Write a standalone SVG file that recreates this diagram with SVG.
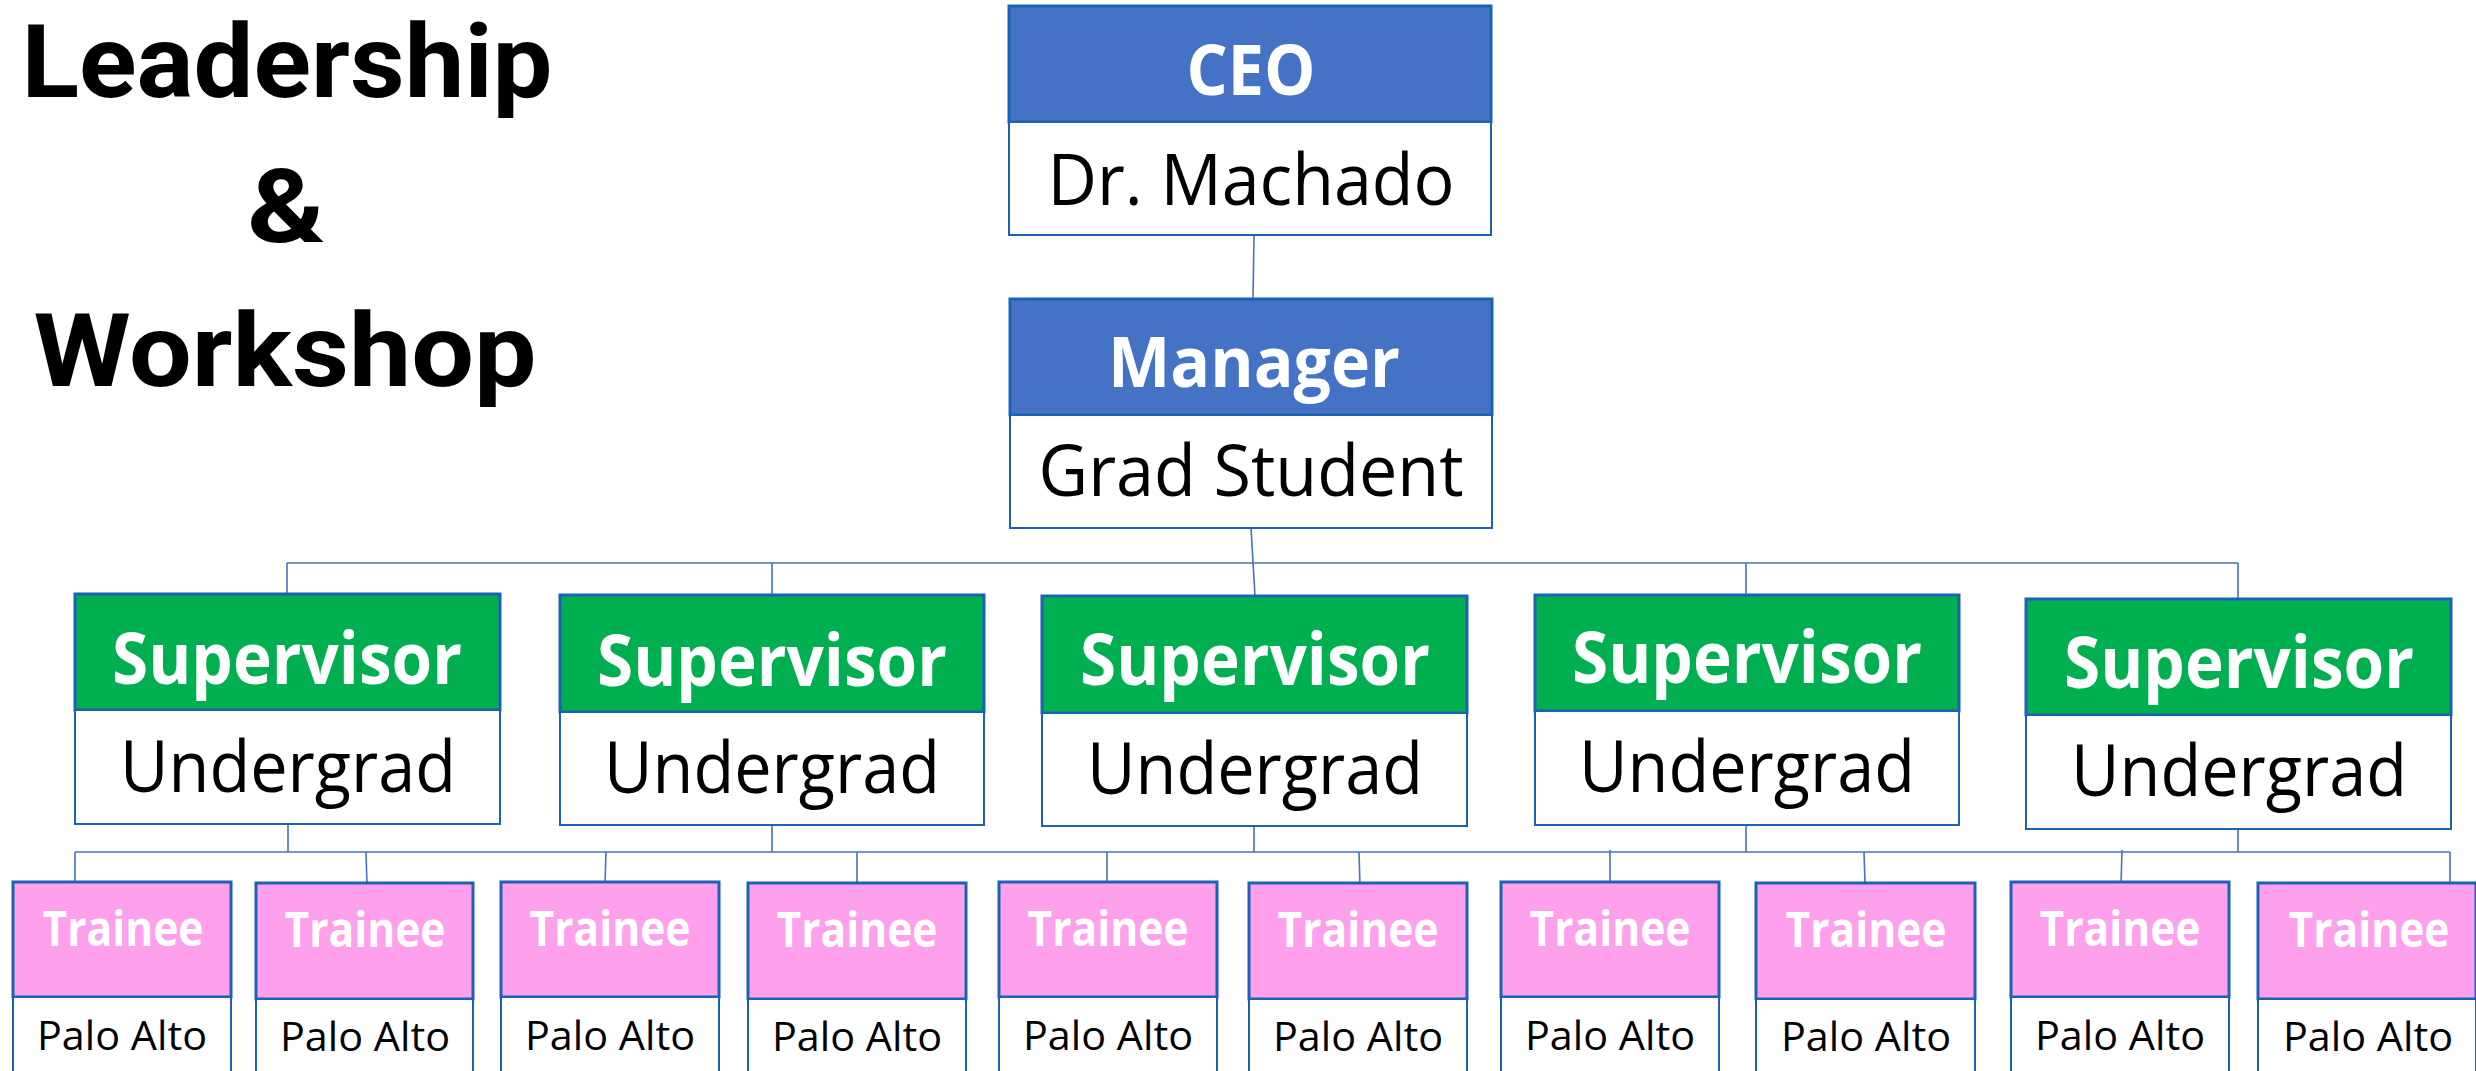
<svg xmlns="http://www.w3.org/2000/svg" width="2476" height="1071" viewBox="0 0 2476 1071">
<style>
.hdr{stroke:#1B62B7;stroke-width:3}
.blue{fill:#4472C4}.green{fill:#00B050}.pink{fill:#FEA0EC}
.body{fill:#FFFFFF;stroke:#1B62B7;stroke-width:2}
.conn{stroke:#4472C4;stroke-width:1.6;fill:none}
text{font-family:"Open Sans","Liberation Sans",sans-serif;text-anchor:middle}
.ht{fill:#FFFFFF;font-weight:700}
.bt{fill:#000000;font-weight:400}
.title{fill:#000000;font-weight:700;font-size:102px;font-family:Roboto,"Open Sans",sans-serif}
.big{font-size:70px}
.trn{font-size:49px}
.pa{font-size:41px}
</style>
<rect width="2476" height="1071" fill="#FFFFFF"/>
<g id="title">
<text class="title" x="287" y="97" textLength="531" lengthAdjust="spacingAndGlyphs">Leadership</text>
<text class="title" x="286" y="242" textLength="78" lengthAdjust="spacingAndGlyphs">&amp;</text>
<text class="title" x="285" y="386" textLength="503" lengthAdjust="spacingAndGlyphs">Workshop</text>
</g>
<g id="connectors">
<path class="conn" d="M1254 236 L1253 299"/>
<path class="conn" d="M1251 528 L1255 596"/>
<path class="conn" d="M287 563 H2238"/>
<path class="conn" d="M287 563 V594 M772 563 V595 M1746 563 V595 M2238 563 V599"/>
<path class="conn" d="M288 824 V852 M772 825 V852 M1254 826 V852 M1746 825 V852 M2238 829 V852"/>
<path class="conn" d="M75 852 H2450"/>
<path class="conn" d="M75 852 V882 M366 852 L367 886 M606 852 L605 884 M857 852 V883 M1107 852 V882 M1359 852 L1360 886 M1610 850 V882 M1864 852 L1865 883 M2122 850 L2121 885 M2450 852 V884"/>
</g>
<g id="ceo">
<rect class="hdr blue" x="1009" y="6" width="482" height="116"/>
<rect class="body" x="1009" y="122" width="482" height="113"/>
<text class="ht big" x="1251" y="95" textLength="129" lengthAdjust="spacingAndGlyphs">CEO</text>
<text class="bt" x="1251" y="205" font-size="71" textLength="407" lengthAdjust="spacingAndGlyphs">Dr. Machado</text>
</g>
<g id="manager">
<rect class="hdr blue" x="1010" y="299" width="482" height="116"/>
<rect class="body" x="1010" y="415" width="482" height="113"/>
<text class="ht big" x="1254" y="387" textLength="292" lengthAdjust="spacingAndGlyphs">Manager</text>
<text class="bt" x="1251" y="496" font-size="71" textLength="425" lengthAdjust="spacingAndGlyphs">Grad Student</text>
</g>
<g id="supervisor1">
<rect class="hdr green" x="75" y="594" width="425" height="116"/>
<rect class="body" x="75" y="710" width="425" height="114"/>
<text class="ht" x="287" y="684" font-size="71" textLength="350" lengthAdjust="spacingAndGlyphs">Supervisor</text>
<text class="bt" x="288" y="792" font-size="72" textLength="336" lengthAdjust="spacingAndGlyphs">Undergrad</text>
</g>
<g id="supervisor2">
<rect class="hdr green" x="560" y="595" width="424" height="117"/>
<rect class="body" x="560" y="712" width="424" height="113"/>
<text class="ht" x="772" y="686" font-size="71" textLength="350" lengthAdjust="spacingAndGlyphs">Supervisor</text>
<text class="bt" x="772" y="793" font-size="72" textLength="336" lengthAdjust="spacingAndGlyphs">Undergrad</text>
</g>
<g id="supervisor3">
<rect class="hdr green" x="1042" y="596" width="425" height="117"/>
<rect class="body" x="1042" y="713" width="425" height="113"/>
<text class="ht" x="1255" y="685" font-size="71" textLength="350" lengthAdjust="spacingAndGlyphs">Supervisor</text>
<text class="bt" x="1255" y="794" font-size="72" textLength="336" lengthAdjust="spacingAndGlyphs">Undergrad</text>
</g>
<g id="supervisor4">
<rect class="hdr green" x="1535" y="595" width="424" height="116"/>
<rect class="body" x="1535" y="711" width="424" height="114"/>
<text class="ht" x="1747" y="683" font-size="71" textLength="350" lengthAdjust="spacingAndGlyphs">Supervisor</text>
<text class="bt" x="1747" y="792" font-size="72" textLength="336" lengthAdjust="spacingAndGlyphs">Undergrad</text>
</g>
<g id="supervisor5">
<rect class="hdr green" x="2026" y="599" width="425" height="116"/>
<rect class="body" x="2026" y="715" width="425" height="114"/>
<text class="ht" x="2239" y="688" font-size="71" textLength="350" lengthAdjust="spacingAndGlyphs">Supervisor</text>
<text class="bt" x="2239" y="796" font-size="72" textLength="336" lengthAdjust="spacingAndGlyphs">Undergrad</text>
</g>
<g id="trainee1">
<rect class="hdr pink" x="13" y="882" width="218" height="115"/>
<rect class="body" x="13" y="997" width="218" height="100"/>
<text class="ht trn" x="123" y="946" textLength="161" lengthAdjust="spacingAndGlyphs">Trainee</text>
<text class="bt pa" x="122" y="1050" textLength="170" lengthAdjust="spacingAndGlyphs">Palo Alto</text>
</g>
<g id="trainee2">
<rect class="hdr pink" x="256" y="883" width="217" height="116"/>
<rect class="body" x="256" y="999" width="217" height="100"/>
<text class="ht trn" x="365" y="947" textLength="161" lengthAdjust="spacingAndGlyphs">Trainee</text>
<text class="bt pa" x="365" y="1051" textLength="170" lengthAdjust="spacingAndGlyphs">Palo Alto</text>
</g>
<g id="trainee3">
<rect class="hdr pink" x="501" y="882" width="218" height="115"/>
<rect class="body" x="501" y="997" width="218" height="100"/>
<text class="ht trn" x="610" y="946" textLength="161" lengthAdjust="spacingAndGlyphs">Trainee</text>
<text class="bt pa" x="610" y="1050" textLength="170" lengthAdjust="spacingAndGlyphs">Palo Alto</text>
</g>
<g id="trainee4">
<rect class="hdr pink" x="748" y="883" width="218" height="116"/>
<rect class="body" x="748" y="999" width="218" height="100"/>
<text class="ht trn" x="857" y="947" textLength="161" lengthAdjust="spacingAndGlyphs">Trainee</text>
<text class="bt pa" x="857" y="1051" textLength="170" lengthAdjust="spacingAndGlyphs">Palo Alto</text>
</g>
<g id="trainee5">
<rect class="hdr pink" x="999" y="882" width="218" height="115"/>
<rect class="body" x="999" y="997" width="218" height="100"/>
<text class="ht trn" x="1108" y="946" textLength="161" lengthAdjust="spacingAndGlyphs">Trainee</text>
<text class="bt pa" x="1108" y="1050" textLength="170" lengthAdjust="spacingAndGlyphs">Palo Alto</text>
</g>
<g id="trainee6">
<rect class="hdr pink" x="1249" y="883" width="218" height="116"/>
<rect class="body" x="1249" y="999" width="218" height="100"/>
<text class="ht trn" x="1358" y="947" textLength="161" lengthAdjust="spacingAndGlyphs">Trainee</text>
<text class="bt pa" x="1358" y="1051" textLength="170" lengthAdjust="spacingAndGlyphs">Palo Alto</text>
</g>
<g id="trainee7">
<rect class="hdr pink" x="1501" y="882" width="218" height="115"/>
<rect class="body" x="1501" y="997" width="218" height="100"/>
<text class="ht trn" x="1610" y="946" textLength="161" lengthAdjust="spacingAndGlyphs">Trainee</text>
<text class="bt pa" x="1610" y="1050" textLength="170" lengthAdjust="spacingAndGlyphs">Palo Alto</text>
</g>
<g id="trainee8">
<rect class="hdr pink" x="1756" y="883" width="219" height="116"/>
<rect class="body" x="1756" y="999" width="219" height="100"/>
<text class="ht trn" x="1866" y="947" textLength="161" lengthAdjust="spacingAndGlyphs">Trainee</text>
<text class="bt pa" x="1866" y="1051" textLength="170" lengthAdjust="spacingAndGlyphs">Palo Alto</text>
</g>
<g id="trainee9">
<rect class="hdr pink" x="2011" y="882" width="218" height="115"/>
<rect class="body" x="2011" y="997" width="218" height="100"/>
<text class="ht trn" x="2120" y="946" textLength="161" lengthAdjust="spacingAndGlyphs">Trainee</text>
<text class="bt pa" x="2120" y="1050" textLength="170" lengthAdjust="spacingAndGlyphs">Palo Alto</text>
</g>
<g id="trainee10">
<rect class="hdr pink" x="2258" y="883" width="218" height="116"/>
<rect class="body" x="2258" y="999" width="218" height="100"/>
<text class="ht trn" x="2369" y="947" textLength="161" lengthAdjust="spacingAndGlyphs">Trainee</text>
<text class="bt pa" x="2368" y="1051" textLength="170" lengthAdjust="spacingAndGlyphs">Palo Alto</text>
</g>
</svg>
